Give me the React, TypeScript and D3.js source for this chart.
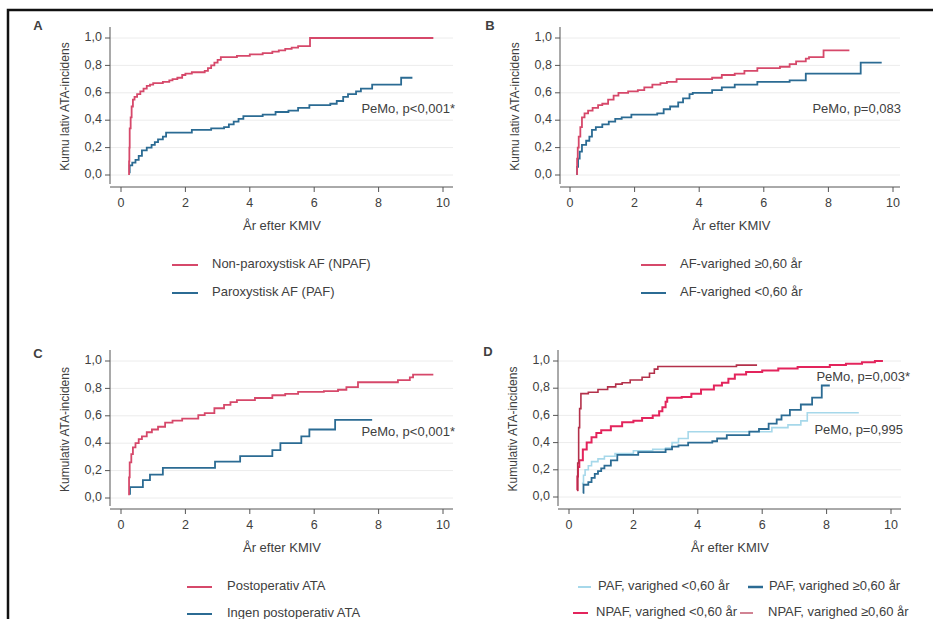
import React from "react";
import * as d3 from "d3";

type P = [number, number];

// ---------- data ----------
const xTicks = [0, 2, 4, 6, 8, 10];
const yTicks = [0, 0.2, 0.4, 0.6, 0.8, 1.0];
const xTitle = "År efter KMIV";
const yTitleAB = "Kumu lativ ATA-incidens";
const yTitleCD = "Kumulativ ATA-incidens";

const aNpaf: P[] = [[0.25,0],[0.25,0.1],[0.26,0.2],[0.27,0.34],[0.3,0.42],[0.33,0.5],[0.37,0.55],[0.42,0.57],[0.5,0.59],[0.6,0.61],[0.7,0.63],[0.8,0.65],[0.9,0.66],[1.0,0.67],[1.3,0.68],[1.5,0.69],[1.6,0.7],[1.75,0.71],[1.9,0.73],[2.0,0.74],[2.2,0.75],[2.6,0.76],[2.7,0.78],[2.8,0.8],[2.9,0.82],[3.0,0.84],[3.1,0.86],[3.6,0.87],[4.0,0.88],[4.4,0.89],[4.7,0.9],[4.9,0.91],[5.1,0.92],[5.3,0.93],[5.5,0.94],[5.87,1.0],[9.7,1.0]];
const aPaf: P[] = [[0.25,0.02],[0.27,0.07],[0.35,0.09],[0.45,0.11],[0.55,0.14],[0.65,0.18],[0.8,0.2],[0.95,0.22],[1.05,0.24],[1.15,0.26],[1.3,0.28],[1.4,0.31],[2.2,0.33],[2.6,0.33],[2.8,0.34],[3.2,0.35],[3.35,0.37],[3.5,0.39],[3.65,0.41],[3.8,0.43],[4.4,0.44],[4.8,0.46],[5.2,0.47],[5.5,0.49],[5.85,0.51],[6.5,0.52],[6.7,0.54],[6.9,0.57],[7.05,0.59],[7.3,0.61],[7.45,0.63],[7.8,0.66],[8.7,0.71],[9.05,0.71]];

const bLong: P[] = [[0.22,0.0],[0.22,0.12],[0.24,0.2],[0.27,0.28],[0.32,0.35],[0.37,0.42],[0.45,0.45],[0.56,0.47],[0.7,0.49],[0.87,0.51],[1.0,0.52],[1.18,0.55],[1.35,0.58],[1.5,0.6],[1.8,0.61],[2.1,0.62],[2.3,0.64],[2.55,0.66],[2.8,0.67],[3.0,0.68],[3.3,0.7],[4.4,0.71],[4.7,0.73],[5.1,0.74],[5.4,0.76],[5.8,0.78],[6.5,0.79],[6.8,0.81],[7.0,0.83],[7.3,0.85],[7.4,0.86],[7.85,0.91],[8.65,0.91]];
const bShort: P[] = [[0.22,0.0],[0.22,0.06],[0.25,0.12],[0.3,0.17],[0.37,0.22],[0.5,0.25],[0.6,0.28],[0.68,0.33],[0.8,0.35],[1.0,0.37],[1.2,0.39],[1.4,0.41],[1.6,0.42],[1.9,0.44],[2.7,0.45],[2.9,0.48],[3.1,0.5],[3.35,0.53],[3.5,0.56],[3.7,0.59],[3.8,0.6],[4.4,0.62],[4.7,0.64],[5.1,0.66],[5.8,0.68],[6.8,0.69],[7.3,0.74],[9.0,0.82],[9.65,0.82]];

const cPost: P[] = [[0.25,0.02],[0.25,0.15],[0.27,0.26],[0.32,0.32],[0.37,0.37],[0.45,0.4],[0.55,0.43],[0.65,0.45],[0.8,0.48],[0.96,0.5],[1.15,0.52],[1.37,0.55],[1.6,0.565],[1.9,0.58],[2.4,0.605],[2.6,0.62],[2.9,0.655],[3.2,0.68],[3.4,0.7],[3.6,0.715],[4.16,0.73],[4.7,0.75],[5.1,0.76],[5.5,0.775],[6.3,0.78],[6.74,0.79],[7.0,0.81],[7.36,0.845],[8.6,0.86],[8.97,0.88],[9.07,0.9],[9.7,0.9]];
const cNone: P[] = [[0.27,0.03],[0.28,0.08],[0.68,0.13],[0.9,0.17],[1.3,0.22],[2.92,0.265],[3.7,0.305],[4.7,0.35],[4.95,0.4],[5.6,0.45],[5.85,0.5],[6.65,0.57],[7.8,0.57]];

const dNpafLong: P[] = [[0.25,0.05],[0.27,0.25],[0.3,0.51],[0.33,0.65],[0.37,0.76],[0.6,0.77],[0.9,0.79],[1.2,0.81],[1.45,0.83],[1.65,0.84],[1.9,0.86],[2.27,0.88],[2.5,0.91],[2.65,0.94],[2.76,0.96],[5.2,0.97],[5.84,0.97]];
const dNpafShort: P[] = [[0.25,0.05],[0.26,0.15],[0.28,0.22],[0.32,0.27],[0.43,0.35],[0.55,0.4],[0.7,0.44],[0.85,0.47],[1.0,0.49],[1.3,0.52],[1.65,0.55],[2.0,0.56],[2.27,0.58],[2.6,0.6],[2.8,0.63],[2.9,0.66],[3.0,0.7],[3.05,0.73],[3.5,0.735],[3.8,0.76],[4.1,0.79],[4.5,0.82],[4.75,0.84],[4.95,0.87],[5.15,0.9],[5.5,0.92],[6.0,0.93],[6.5,0.945],[7.1,0.955],[8.1,0.97],[8.6,0.98],[9.1,0.99],[9.5,1.0],[9.75,1.0]];
const dPafShort: P[] = [[0.4,0.1],[0.45,0.16],[0.5,0.2],[0.6,0.23],[0.7,0.26],[0.9,0.28],[1.1,0.3],[1.43,0.32],[2.0,0.34],[2.6,0.35],[3.0,0.36],[3.2,0.4],[3.4,0.43],[3.7,0.48],[5.2,0.48],[6.3,0.51],[6.8,0.53],[7.2,0.56],[7.4,0.62],[9.0,0.62]];
const dPafLong: P[] = [[0.43,0.03],[0.45,0.09],[0.6,0.11],[0.7,0.14],[0.8,0.17],[0.9,0.19],[1.0,0.21],[1.1,0.23],[1.3,0.27],[1.5,0.31],[2.15,0.33],[3.0,0.35],[3.2,0.37],[3.4,0.38],[3.7,0.4],[4.45,0.41],[4.6,0.43],[4.9,0.455],[5.6,0.48],[5.9,0.5],[6.2,0.54],[6.45,0.57],[6.6,0.6],[6.86,0.64],[7.2,0.68],[7.55,0.73],[7.85,0.82],[8.1,0.82]];

const legendA = ["Non-paroxystisk AF (NPAF)", "Paroxystisk AF (PAF)"];
const legendB = ["AF-varighed ≥0,60 år", "AF-varighed <0,60 år"];
const legendC = ["Postoperativ ATA", "Ingen postoperativ ATA"];
const legendD = ["PAF, varighed <0,60 år", "PAF, varighed ≥0,60 år", "NPAF, varighed <0,60 år", "NPAF, varighed ≥0,60 år"];

// ---------- styles ----------
const RED = "#d6486a";
const BLUE = "#2b6b93";
const LIGHTBLUE = "#a6d8ea";
const DARKRED = "#b3304a";
const CRIMSON = "#e3245c";
const TXT = "#404040";
const AXIS = "#555";
const FONT = "'Liberation Sans', Arial, sans-serif";

type Series = { data: P[]; color: string; width: number };
type Panel = {
  letter: string; lx: number; ly: number;
  axX: number; x0: number; x10: number; y0: number; y1: number;
  top: number; axY: number; right: number;
  yTitle: string; series: Series[];
  notes: { text: string; x: number; y: number }[];
};

const panels: Panel[] = [
  { letter: "A", lx: 38, ly: 27, axX: 110, x0: 121, x10: 443, y0: 175, y1: 38, top: 27, axY: 187, right: 453,
    yTitle: yTitleAB,
    series: [{ data: aPaf, color: BLUE, width: 1.8 }, { data: aNpaf, color: RED, width: 1.8 }],
    notes: [{ text: "PeMo, p<0,001*", x: 455, y: 110 }] },
  { letter: "B", lx: 490, ly: 27, axX: 560, x0: 570, x10: 893, y0: 175, y1: 38, top: 27, axY: 187, right: 900,
    yTitle: yTitleAB,
    series: [{ data: bShort, color: BLUE, width: 1.8 }, { data: bLong, color: RED, width: 1.8 }],
    notes: [{ text: "PeMo, p=0,083", x: 901, y: 110 }] },
  { letter: "C", lx: 38, ly: 355, axX: 110, x0: 121, x10: 443, y0: 498, y1: 361, top: 350, axY: 509, right: 453,
    yTitle: yTitleCD,
    series: [{ data: cNone, color: BLUE, width: 1.8 }, { data: cPost, color: RED, width: 1.8 }],
    notes: [{ text: "PeMo, p<0,001*", x: 455, y: 433 }] },
  { letter: "D", lx: 488, ly: 353, axX: 558, x0: 569, x10: 891, y0: 497, y1: 361, top: 350, axY: 509, right: 901,
    yTitle: yTitleCD,
    series: [
      { data: dPafShort, color: LIGHTBLUE, width: 1.6 },
      { data: dPafLong, color: BLUE, width: 1.8 },
      { data: dNpafShort, color: CRIMSON, width: 2.0 },
      { data: dNpafLong, color: DARKRED, width: 1.6 },
    ],
    notes: [{ text: "PeMo, p=0,003*", x: 910, y: 378 }, { text: "PeMo, p=0,995", x: 903, y: 431 }] },
];

function PanelView({ p }: { p: Panel }) {
  const x = d3.scaleLinear().domain([0, 10]).range([p.x0, p.x10]);
  const y = d3.scaleLinear().domain([0, 1]).range([p.y0, p.y1]);
  const line = d3.line<P>().x((d) => x(d[0])).y((d) => y(d[1])).curve(d3.curveStepAfter);
  const midX = (p.x0 + p.x10) / 2;
  const midY = (p.y0 + p.y1) / 2;
  return (
    <g>
      <text x={p.lx} y={p.ly} textAnchor="middle" dominantBaseline="middle" fontSize={13} fontWeight="bold" fill={TXT}>{p.letter}</text>
      {yTicks.map((t) => (
        <line key={"g" + t} x1={p.axX} x2={p.right} y1={y(t)} y2={y(t)} stroke="#ececec" strokeWidth={1} />
      ))}
      <line x1={p.axX} x2={p.axX} y1={p.top} y2={p.axY - 3} stroke={AXIS} strokeWidth={1} />
      <line x1={p.axX} x2={p.right} y1={p.axY} y2={p.axY} stroke={AXIS} strokeWidth={1} />
      {yTicks.map((t) => (
        <g key={"y" + t}>
          <line x1={p.axX - 5} x2={p.axX} y1={y(t)} y2={y(t)} stroke={AXIS} />
          <text x={p.axX - 8} y={y(t)} textAnchor="end" dominantBaseline="middle" fontSize={12.5} fill={TXT}>
            {d3.format(".1f")(t).replace(".", ",")}
          </text>
        </g>
      ))}
      {xTicks.map((t) => (
        <g key={"x" + t}>
          <line x1={x(t)} x2={x(t)} y1={p.axY} y2={p.axY + 5} stroke={AXIS} />
          <text x={x(t)} y={p.axY + 17} textAnchor="middle" dominantBaseline="middle" fontSize={12.5} fill={TXT}>{t}</text>
        </g>
      ))}
      <text x={midX} y={p.axY + 40} textAnchor="middle" dominantBaseline="middle" fontSize={13} fill={TXT}>{xTitle}</text>
      <text transform={`translate(${p.axX - 44},${midY}) rotate(-90)`} textAnchor="middle" dominantBaseline="middle" fontSize={12} fill={TXT}>{p.yTitle}</text>
      {p.series.map((s, i) => (
        <path key={i} d={line(s.data) || ""} fill="none" stroke={s.color} strokeWidth={s.width} />
      ))}
      {p.notes.map((n, i) => (
        <text key={i} x={n.x} y={n.y} textAnchor="end" dominantBaseline="middle" fontSize={13} fill={TXT}>{n.text}</text>
      ))}
    </g>
  );
}

function LegendItem({ x1, x2, tx, y, color, width, label }: { x1: number; x2: number; tx: number; y: number; color: string; width: number; label: string }) {
  return (
    <g>
      <line x1={x1} x2={x2} y1={y} y2={y} stroke={color} strokeWidth={width} />
      <text x={tx} y={y} dominantBaseline="middle" fontSize={13} fill={TXT}>{label}</text>
    </g>
  );
}

export default function App() {
  return (
    <svg width={933} height={619} style={{ position: "absolute", left: 0, top: 0, background: "#fff", fontFamily: FONT }}>
      <rect x={0} y={0} width={933} height={619} fill="#fff" />
      <path d="M8,640 L8,10 L940,10" fill="none" stroke="#111" strokeWidth={2.5} />
      {panels.map((p) => <PanelView key={p.letter} p={p} />)}
      <LegendItem x1={172} x2={198} tx={212} y={265} color={RED} width={2} label={legendA[0]} />
      <LegendItem x1={172} x2={198} tx={212} y={293} color={BLUE} width={2} label={legendA[1]} />
      <LegendItem x1={641} x2={666} tx={680} y={265} color={RED} width={2} label={legendB[0]} />
      <LegendItem x1={641} x2={666} tx={680} y={293} color={BLUE} width={2} label={legendB[1]} />
      <LegendItem x1={187} x2={212} tx={227} y={587} color={RED} width={2} label={legendC[0]} />
      <LegendItem x1={187} x2={212} tx={227} y={614} color={BLUE} width={2} label={legendC[1]} />
      <LegendItem x1={578} x2={591} tx={598} y={587} color={LIGHTBLUE} width={2} label={legendD[0]} />
      <LegendItem x1={748} x2={763} tx={769} y={587} color={BLUE} width={2.5} label={legendD[1]} />
      <LegendItem x1={573} x2={588} tx={596} y={613} color={CRIMSON} width={2} label={legendD[2]} />
      <LegendItem x1={740} x2={753} tx={768} y={613} color={DARKRED} width={1.2} label={legendD[3]} />
    </svg>
  );
}
